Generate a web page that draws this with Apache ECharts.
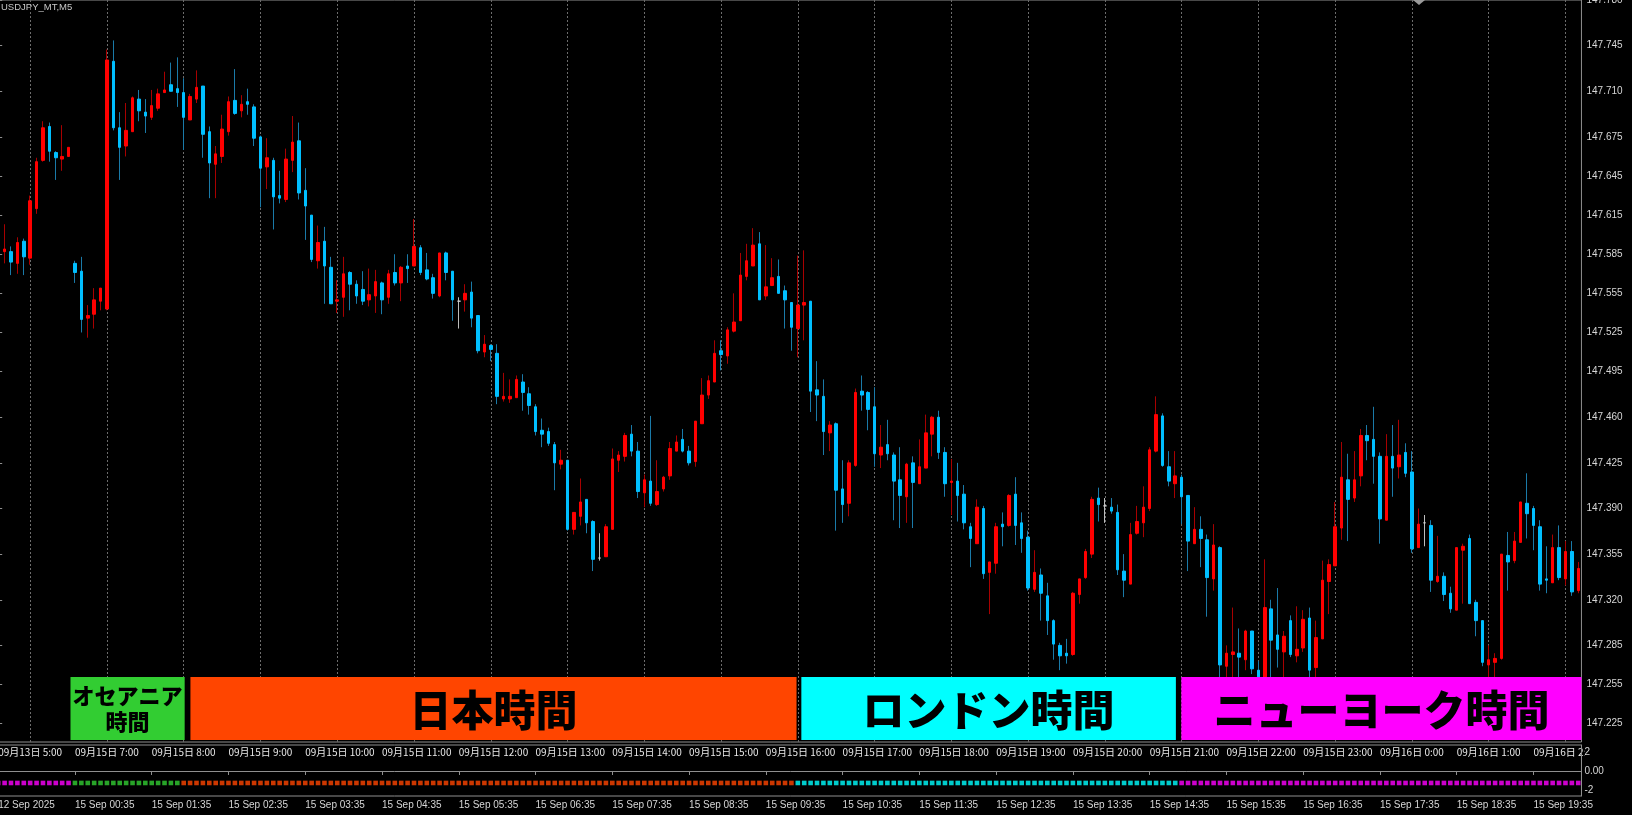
<!DOCTYPE html>
<html><head><meta charset="utf-8">
<script src="https://cdn.jsdelivr.net/npm/echarts@6/dist/echarts.min.js"></script>
<style>html,body{margin:0;padding:0;background:#000;overflow:hidden}#c{width:1632px;height:815px}</style>
</head><body><div id="c"></div><script>
// ---------- DATA (USDJPY_MT, M5) ----------
const opens = [
147.551,147.587,147.587,147.578,147.595,147.582,147.620,147.657,147.683,147.663,
147.658,147.660,147.578,147.572,147.536,147.539,147.549,147.543,147.733,147.682,
147.668,147.679,147.704,147.694,147.690,147.697,147.709,147.715,147.712,147.709,
147.688,147.704,147.714,147.679,147.654,147.660,147.679,147.703,147.695,147.702,
147.698,147.675,147.652,147.657,147.630,147.627,147.657,147.672,147.634,147.615,
147.580,147.595,147.575,147.549,147.552,147.571,147.562,147.558,147.550,147.553,
147.563,147.552,147.571,147.563,147.576,147.576,147.590,147.573,147.567,147.553,
147.586,147.572,147.549,147.550,147.556,147.538,147.510,147.515,147.509,147.474,
147.474,147.475,147.487,147.478,147.468,147.450,147.449,147.439,147.424,147.427,
147.374,147.384,147.397,147.380,147.352,147.353,147.374,147.427,147.430,147.447,
147.434,147.402,147.411,147.393,147.405,147.415,147.434,147.443,147.434,147.426,
147.455,147.477,147.487,147.511,147.507,147.526,147.534,147.568,147.576,147.593,
147.553,147.561,147.568,147.557,147.548,147.528,147.546,147.549,147.481,147.476,
147.448,147.455,147.405,147.394,147.423,147.480,147.479,147.468,147.431,147.439,
147.431,147.412,147.399,147.425,147.409,147.421,147.447,147.460,147.433,147.410,
147.411,147.401,147.376,147.363,147.390,147.341,147.348,147.378,147.377,147.401,
147.379,147.368,147.328,147.339,147.323,147.304,147.285,147.279,147.278,147.324,
147.337,147.355,147.398,147.392,147.391,147.387,147.342,147.332,147.371,147.379,
147.390,147.434,147.461,147.422,147.409,147.414,147.400,147.363,147.374,147.366,
147.336,147.360,147.269,147.278,147.279,147.274,147.296,147.266,147.250,147.313,
147.293,147.280,147.304,147.277,147.283,147.306,147.268,147.290,147.334,147.346,
147.375,147.412,147.398,147.415,147.446,147.443,147.430,147.381,147.430,147.422,
147.433,147.418,147.360,147.379,147.377,147.334,147.338,147.325,147.312,147.358,
147.367,147.318,147.304,147.270,147.272,147.275,147.354,147.350,147.364,147.394,
147.390,147.376,147.336,147.333,147.360,147.336,147.357,147.327];
const closes = [
147.580,147.589,147.579,147.594,147.583,147.626,147.656,147.682,147.664,147.659,
147.660,147.667,147.571,147.535,147.538,147.550,147.559,147.734,147.682,147.667,
147.680,147.705,147.695,147.691,147.699,147.708,147.711,147.710,147.709,147.690,
147.706,147.713,147.677,147.655,147.662,147.681,147.702,147.693,147.700,147.700,
147.674,147.651,147.659,147.629,147.628,147.658,147.671,147.632,147.622,147.581,
147.594,147.576,147.547,147.550,147.570,147.562,147.553,147.549,147.554,147.564,
147.550,147.570,147.563,147.575,147.574,147.591,147.571,147.566,147.555,147.586,
147.571,147.550,147.549,147.555,147.536,147.511,147.516,147.512,147.476,147.476,
147.476,147.489,147.479,147.469,147.449,147.447,147.440,147.425,147.427,147.374,
147.387,147.395,147.379,147.351,147.352,147.376,147.428,147.431,147.446,147.434,
147.403,147.412,147.394,147.403,147.414,147.436,147.441,147.434,147.425,147.457,
147.477,147.488,147.509,147.508,147.527,147.533,147.569,147.580,147.592,147.550,
147.560,147.567,147.555,147.550,147.529,147.546,147.548,147.480,147.477,147.449,
147.454,147.404,147.393,147.425,147.479,147.477,147.466,147.432,147.437,147.432,
147.411,147.400,147.424,147.410,147.422,147.448,147.460,147.433,147.409,147.411,
147.400,147.379,147.367,147.391,147.340,147.349,147.376,147.376,147.400,147.377,
147.367,147.329,147.341,147.325,147.304,147.286,147.277,147.277,147.325,147.336,
147.357,147.397,147.393,147.392,147.388,147.343,147.335,147.370,147.380,147.391,
147.435,147.462,147.423,147.411,147.415,147.399,147.365,147.374,147.367,147.337,
147.362,147.270,147.279,147.280,147.276,147.296,147.267,147.255,147.314,147.289,
147.282,147.292,147.278,147.282,147.305,147.266,147.291,147.335,147.347,147.376,
147.414,147.397,147.412,147.446,147.442,147.430,147.382,147.430,147.421,147.431,
147.417,147.359,147.378,147.379,147.335,147.338,147.324,147.313,147.360,147.361,
147.317,147.304,147.272,147.274,147.275,147.355,147.349,147.365,147.395,147.386,
147.377,147.332,147.335,147.360,147.337,147.357,147.326,147.344];
const lows = [
147.549,147.578,147.569,147.570,147.569,147.577,147.616,147.656,147.656,147.642,
147.649,147.660,147.563,147.525,147.521,147.528,147.542,147.542,147.680,147.642,
147.660,147.679,147.687,147.678,147.688,147.695,147.709,147.710,147.698,147.665,
147.688,147.701,147.659,147.628,147.628,147.655,147.676,147.692,147.690,147.692,
147.668,147.621,147.635,147.604,147.624,147.625,147.648,147.627,147.596,147.579,
147.574,147.547,147.547,147.540,147.537,147.542,147.547,147.546,147.545,147.540,
147.539,147.547,147.561,147.549,147.563,147.576,147.569,147.565,147.551,147.552,
147.565,147.534,147.528,147.541,147.529,147.509,147.506,147.503,147.470,147.472,
147.471,147.475,147.465,147.462,147.446,147.437,147.438,147.404,147.420,147.373,
147.370,147.377,147.371,147.342,147.350,147.353,147.374,147.418,147.426,147.430,
147.398,147.391,147.392,147.392,147.403,147.412,147.434,147.433,147.423,147.422,
147.455,147.474,147.487,147.496,147.501,147.525,147.534,147.565,147.576,147.550,
147.550,147.561,147.555,147.528,147.511,147.506,147.519,147.464,147.457,147.431,
147.434,147.373,147.379,147.384,147.422,147.465,147.450,147.422,147.421,147.427,
147.381,147.375,147.379,147.375,147.409,147.421,147.430,147.428,147.399,147.385,
147.380,147.374,147.345,147.363,147.336,147.309,147.340,147.361,147.376,147.362,
147.356,147.327,147.326,147.304,147.293,147.274,147.266,147.271,147.277,147.317,
147.336,147.352,147.380,147.379,147.386,147.339,147.322,147.332,147.370,147.368,
147.388,147.433,147.422,147.407,147.398,147.378,147.342,147.363,147.345,147.307,
147.327,147.254,147.254,147.258,147.258,147.266,147.263,147.250,147.247,147.258,
147.268,147.258,147.276,147.272,147.280,147.258,147.258,147.290,147.309,147.346,
147.366,147.365,147.395,147.407,147.427,147.409,147.363,147.381,147.399,147.413,
147.414,147.356,147.360,147.361,147.326,147.333,147.319,147.310,147.312,147.317,
147.317,147.292,147.269,147.258,147.258,147.274,147.327,147.348,147.364,147.367,
147.358,147.327,147.325,147.333,147.335,147.331,147.323,147.325];
const highs = [
147.584,147.608,147.591,147.598,147.597,147.630,147.659,147.687,147.686,147.664,
147.684,147.667,147.580,147.583,147.546,147.559,147.559,147.742,147.749,147.694,
147.701,147.706,147.711,147.704,147.711,147.712,147.725,147.732,147.736,147.720,
147.708,147.726,147.714,147.683,147.668,147.692,147.706,147.727,147.707,147.712,
147.700,147.676,147.674,147.659,147.649,147.666,147.691,147.686,147.651,147.615,
147.607,147.606,147.583,147.565,147.583,147.572,147.565,147.572,147.574,147.573,
147.564,147.573,147.585,147.576,147.585,147.612,147.592,147.586,147.570,147.586,
147.587,147.572,147.552,147.562,147.564,147.538,147.523,147.516,147.516,147.494,
147.489,147.492,147.493,147.483,147.470,147.459,147.452,147.441,147.435,147.427,
147.387,147.413,147.397,147.381,147.371,147.378,147.436,147.434,147.448,147.454,
147.441,147.416,147.461,147.427,147.415,147.441,147.446,147.451,147.438,147.457,
147.490,147.492,147.519,147.519,147.529,147.555,147.586,147.593,147.605,147.602,
147.592,147.582,147.581,147.561,147.548,147.584,147.588,147.549,147.503,147.489,
147.457,147.456,147.427,147.427,147.482,147.492,147.480,147.483,147.454,147.458,
147.433,147.437,147.425,147.430,147.443,147.462,147.461,147.465,147.437,147.428,
147.425,147.408,147.379,147.397,147.392,147.349,147.379,147.387,147.401,147.414,
147.387,147.373,147.358,147.344,147.333,147.305,147.287,147.290,147.326,147.336,
147.359,147.399,147.406,147.398,147.398,147.393,147.355,147.379,147.392,147.407,
147.437,147.476,147.463,147.434,147.434,147.416,147.400,147.391,147.384,147.370,
147.378,147.361,147.285,147.314,147.298,147.297,147.296,147.273,147.351,147.320,
147.329,147.296,147.308,147.315,147.312,147.314,147.304,147.350,147.351,147.395,
147.441,147.432,147.434,147.451,147.454,147.468,147.433,147.447,147.454,147.458,
147.440,147.434,147.390,147.385,147.381,147.369,147.341,147.330,147.360,147.363,
147.370,147.320,147.304,147.285,147.279,147.355,147.372,147.372,147.395,147.417,
147.392,147.381,147.361,147.370,147.377,147.365,147.365,147.349];

// bottom time scale labels (every 12 bars) and JST hour labels of the session indicator
const timeTickLabels = ["12 Sep 2025","15 Sep 00:35","15 Sep 01:35","15 Sep 02:35","15 Sep 03:35","15 Sep 04:35","15 Sep 05:35","15 Sep 06:35","15 Sep 07:35","15 Sep 08:35","15 Sep 09:35","15 Sep 10:35","15 Sep 11:35","15 Sep 12:35","15 Sep 13:35","15 Sep 14:35","15 Sep 15:35","15 Sep 16:35","15 Sep 17:35","15 Sep 18:35","15 Sep 19:35"];
const jstLabels = ["09月13日 5:00","09月15日 7:00","09月15日 8:00","09月15日 9:00","09月15日 10:00","09月15日 11:00","09月15日 12:00","09月15日 13:00","09月15日 14:00","09月15日 15:00","09月15日 16:00","09月15日 17:00","09月15日 18:00","09月15日 19:00","09月15日 20:00","09月15日 21:00","09月15日 22:00","09月15日 23:00","09月16日 0:00","09月16日 1:00","09月16日 2:00"];
const priceTicks = [147.780,147.745,147.710,147.675,147.645,147.615,147.585,147.555,147.525,147.495,147.460,147.425,147.390,147.355,147.320,147.285,147.255,147.225];
const subTicks = [2, 0, -2];

// trading sessions (bar index where each session's dots begin)
const sessionFirstBar = [0, 12, 29, 125, 185];
const sessionColors = ['#ff00ff', '#32cd32', '#ff4500', '#00ffff', '#ff00ff'];
// session boxes (in bar units), labels and colours
const boxStart = [11.3, 30.05, 125.55, 184.95];
const boxEnd = [29.15, 124.8, 184.1, 247.5];
const boxLabels = ['オセアニア\n時間', '日本時間', 'ロンドン時間', 'ニューヨーク時間'];
const boxColors = ['#32cd32', '#ff4500', '#00ffff', '#ff00ff'];
const boxPriceTop = 147.2608, boxPriceBottom = 147.2125;
const sessionDotLevel = -1.26;

// ---------- CHART ----------
const N = opens.length;
const pad = n => String(n).padStart(2, '0');
const categories = [];
const friStart = Date.UTC(2025, 8, 12, 23, 0), monStart = Date.UTC(2025, 8, 15, 0, 35);
for (let i = 0; i < N; i++) {
  const t = new Date(i < 12 ? friStart + i * 300000 : monStart + (i - 12) * 300000);
  categories.push(t.getUTCFullYear() + '.' + pad(t.getUTCMonth() + 1) + '.' + pad(t.getUTCDate()) + ' ' + pad(t.getUTCHours()) + ':' + pad(t.getUTCMinutes()));
}
const wickData = opens.map((o, i) => [o, closes[i], lows[i], highs[i]]);
const bodyData = opens.map((o, i) => [o, closes[i], Math.min(o, closes[i]), Math.max(o, closes[i])]);
const sessionOf = i => { let s = 0; for (let k = 0; k < sessionFirstBar.length; k++) if (i >= sessionFirstBar[k]) s = k; return s; };
const dotData = categories.map((c, i) => ({ value: [i, sessionDotLevel], itemStyle: { color: sessionColors[sessionOf(i)] } }));
const gridBars = []; for (let b = 5; b < N; b += 12) gridBars.push(b);

const PITCH = 6.397;
const GL = -5, GW = N * PITCH;
const txt = '#d6d6d6', axisCol = '#8f8f8f';
const latin = 'Liberation Sans, DejaVu Sans, sans-serif';
const cjk = 'Noto Sans CJK JP, Noto Sans, sans-serif';

const boxAreas = boxLabels.map((lab, k) => [
  { xAxis: boxStart[k], yAxis: boxPriceBottom, name: lab,
    itemStyle: { color: boxColors[k], opacity: 1 },
    label: k === 0 ? { fontSize: 22, lineHeight: 26 } : { fontSize: 42, lineHeight: 46, offset: [0, 2] } },
  { xAxis: boxEnd[k], yAxis: boxPriceTop }
]);

const chart = echarts.init(document.getElementById('c'), null, { renderer: 'canvas' });
chart.setOption({
  backgroundColor: '#000000',
  animation: false,
  title: { text: 'USDJPY_MT,M5', left: 1, top: 2, padding: 0,
    textStyle: { color: '#c8c8c8', fontSize: 9.5, fontWeight: 'normal', fontFamily: latin } },
  grid: [
    { left: GL, top: 0, width: GW, height: 742, show: true, borderColor: axisCol, borderWidth: 1, backgroundColor: 'transparent', containLabel: false, outerBoundsMode: 'none' },
    { left: GL, top: 745, width: GW, height: 51, show: true, borderColor: axisCol, borderWidth: 1, backgroundColor: 'transparent', containLabel: false, outerBoundsMode: 'none' }
  ],
  xAxis: [
    { type: 'category', gridIndex: 0, data: categories, show: false },
    { type: 'value', gridIndex: 0, min: -0.5, max: N - 0.5, show: false },
    { type: 'category', gridIndex: 1, data: categories, position: 'bottom',
      axisLine: { show: true, lineStyle: { color: axisCol } },
      axisTick: { show: true, interval: 11, alignWithLabel: true, length: 4, lineStyle: { color: axisCol } },
      axisLabel: { interval: 11, align: 'left', margin: 4, color: txt, fontSize: 10, fontFamily: latin,
        formatter: (v, i) => timeTickLabels[i / 12] || '' },
      splitLine: { show: false } },
    { type: 'category', gridIndex: 1, data: categories, position: 'top', z: 1,
      axisLine: { show: false }, axisTick: { show: false },
      axisLabel: { inside: true, interval: 11, align: 'left', margin: 2, color: '#e8e8e8', fontSize: 10, fontFamily: cjk,
        formatter: (v, i) => jstLabels[i / 12] || '' },
      splitLine: { show: false } }
  ],
  yAxis: [
    { type: 'value', gridIndex: 0, position: 'right', min: 147.2109, max: 147.780, scale: true,
      splitLine: { show: false },
      axisLine: { show: true, lineStyle: { color: axisCol } },
      axisTick: { show: true, length: 4, customValues: priceTicks, lineStyle: { color: axisCol } },
      axisLabel: { customValues: priceTicks, margin: 5, color: txt, fontSize: 10, fontFamily: latin,
        formatter: v => v.toFixed(3) } },
    { type: 'value', gridIndex: 1, position: 'right', min: -2.632, max: 2.737, z: 3,
      splitLine: { show: false },
      axisLine: { show: true, lineStyle: { color: axisCol } },
      axisTick: { show: false },
      axisLabel: { customValues: subTicks, margin: 3, color: txt, fontSize: 10, fontFamily: latin,
        backgroundColor: '#000', width: 40, align: 'left',
        formatter: v => (v === 0 ? '0.00' : String(v)) } }
  ],
  series: [
    { type: 'candlestick', name: 'wick', xAxisIndex: 0, yAxisIndex: 0, data: wickData, barWidth: 1, z: 2, silent: true,
      itemStyle: { color: '#a80000', color0: '#1a7aa8', borderColor: '#a80000', borderColor0: '#1a7aa8', borderColorDoji: '#bdbdbd', borderWidth: 1 } },
    { type: 'candlestick', name: 'body', xAxisIndex: 0, yAxisIndex: 0, data: bodyData, barWidth: 3, z: 3, silent: true,
      itemStyle: { color: '#ff0000', color0: '#00bfff', borderColor: '#ff0000', borderColor0: '#00bfff', borderColorDoji: '#d0d0d0', borderWidth: 1 } },
    { type: 'line', name: 'overlay', xAxisIndex: 1, yAxisIndex: 0, data: [], silent: true,
      markLine: { z: 1, silent: true, symbol: ['none', 'none'], animation: false,
        label: { show: false }, lineStyle: { color: '#6c6c6c', type: [2, 2], width: 1 },
        data: gridBars.map(b => ({ xAxis: b })) },
      markArea: { z: 10, silent: true, animation: false,
        label: { show: true, position: 'inside', color: '#000', fontWeight: 900, fontFamily: cjk },
        data: boxAreas } },
    { type: 'scatter', name: 'session', xAxisIndex: 2, yAxisIndex: 1, data: dotData, symbol: 'rect', symbolSize: 4.6, silent: true, z: 2 }
  ],
  graphic: [
    { type: 'polygon', shape: { points: [[1413, 0], [1425, 0], [1419, 5]] }, style: { fill: '#9a9a9a' }, silent: true }
  ]
});
</script></body></html>
